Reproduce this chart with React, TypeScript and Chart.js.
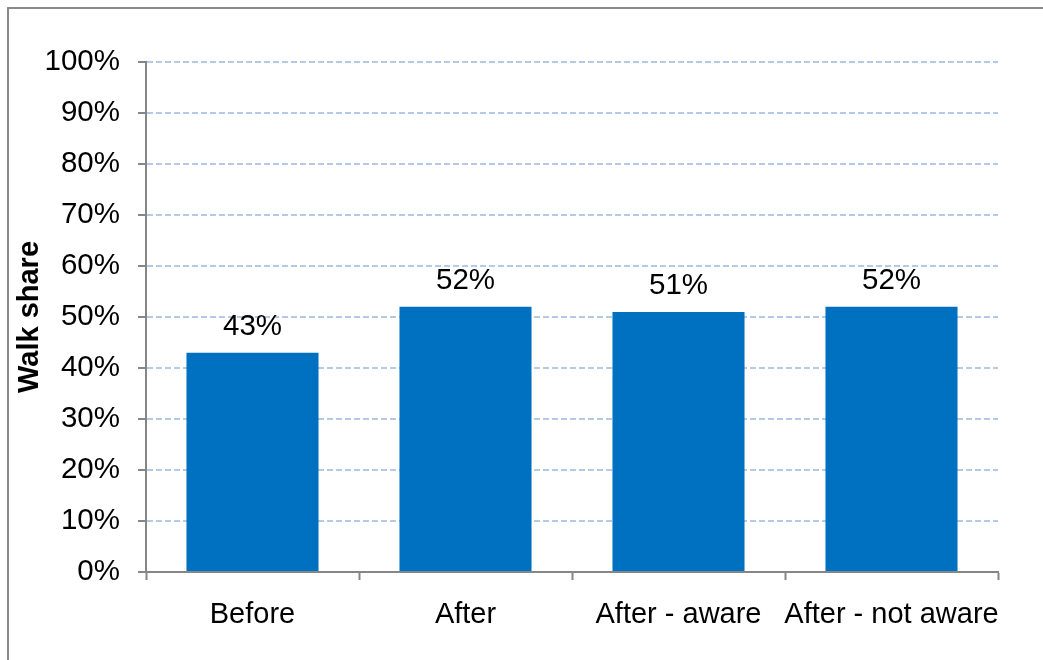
import React, { useEffect, useRef } from "react";
import { Chart, registerables } from "chart.js";

Chart.register(...registerables);

const categories: string[] = ["Before", "After", "After - aware", "After - not aware"];
const walkShare: number[] = [43, 52, 51, 52];
const yTickMin = 0;
const yTickMax = 100;
const yTickStep = 10;
const yTitle = "Walk share";

const FONT = '"Liberation Sans", Arial, sans-serif';

export default function App() {
  const canvasRef = useRef<HTMLCanvasElement | null>(null);

  useEffect(() => {
    const canvas = canvasRef.current;
    if (!canvas) return;

    const framePlugin = {
      id: "frame",
      beforeDraw(chart: any) {
        const ctx = chart.ctx;
        ctx.save();
        ctx.fillStyle = "#ffffff";
        ctx.fillRect(0, 0, chart.width, chart.height);
        ctx.strokeStyle = "#8a8a8a";
        ctx.lineWidth = 2;
        ctx.beginPath();
        ctx.moveTo(8, chart.height + 2);
        ctx.lineTo(8, 8);
        ctx.lineTo(chart.width + 2, 8);
        ctx.stroke();
        ctx.restore();
      },
    };

    const labelPlugin = {
      id: "barLabels",
      afterDatasetsDraw(chart: any) {
        const ctx = chart.ctx;
        const meta = chart.getDatasetMeta(0);
        const data = chart.data.datasets[0].data as number[];
        ctx.save();
        ctx.font = `29.5px ${FONT}`;
        ctx.fillStyle = "#000000";
        ctx.textAlign = "center";
        ctx.textBaseline = "alphabetic";
        meta.data.forEach((bar: any, i: number) => {
          ctx.fillText(`${data[i]}%`, bar.x, bar.y - 18);
        });
        ctx.restore();
      },
    };

    const chart = new Chart(canvas, {
      type: "bar",
      data: {
        labels: categories,
        datasets: [
          {
            data: walkShare,
            backgroundColor: "#0070C0",
            borderWidth: 0,
            barPercentage: 0.62,
            categoryPercentage: 1,
          },
        ],
      },
      options: {
        animation: false,
        responsive: false,
        maintainAspectRatio: false,
        devicePixelRatio: 1,
        layout: { padding: { left: 0, right: 45, top: 62, bottom: 8 } },
        plugins: {
          legend: { display: false },
          tooltip: { enabled: false },
          title: { display: false },
        },
        scales: {
          x: {
            afterFit: (scale: any) => {
              scale.height = 80;
            },
            grid: {
              display: true,
              drawOnChartArea: false,
              drawTicks: true,
              tickLength: 8,
              tickColor: "#868686",
              tickWidth: 2,
              offset: true,
            },
            border: { display: true, color: "#868686", width: 2 },
            ticks: {
              color: "#000000",
              font: { family: FONT, size: 29 },
              padding: 18,
              maxRotation: 0,
              minRotation: 0,
              autoSkip: false,
            },
          },
          y: {
            min: yTickMin,
            max: yTickMax,
            afterFit: (scale: any) => {
              scale.width = 146;
            },
            grid: {
              display: true,
              drawOnChartArea: true,
              drawTicks: true,
              tickLength: 8,
              color: "#B4CAE6",
              lineWidth: 2,
              tickColor: "#868686",
              tickWidth: 2,
              tickBorderDash: [],
            } as any,
            border: { display: true, color: "#868686", width: 2, dash: [6, 3] },
            ticks: {
              stepSize: yTickStep,
              color: "#000000",
              font: { family: FONT, size: 29.5 },
              padding: 18,
              callback: (v: any) => `${v}%`,
            },
            title: {
              display: true,
              text: yTitle,
              color: "#000000",
              font: { family: FONT, size: 29, weight: "bold" },
              padding: { top: 13, bottom: 0 },
            },
          },
        },
      },
      plugins: [framePlugin, labelPlugin],
    });

    return () => {
      chart.destroy();
    };
  }, []);

  return (
    <div style={{ position: "fixed", left: 0, top: 0, width: 1043, height: 660, overflow: "hidden", background: "#fff" }}>
      <canvas ref={canvasRef} width={1043} height={660} style={{ display: "block", width: 1043, height: 660 }} />
    </div>
  );
}
